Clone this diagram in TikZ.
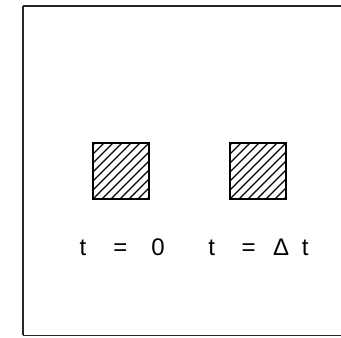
\documentclass[tikz,border=0pt]{standalone}
\usepackage{fontspec}
\setmainfont{Liberation Sans}
\begin{document}
\begin{tikzpicture}[x=1pt,y=1pt,
  framestyle/.style={line width=1.4pt,black!85},
  boxstyle/.style={draw,line width=1pt,minimum width=55pt,minimum height=55pt,inner sep=0pt,anchor=south west},
  hatchline/.style={line width=1.2pt},
  labelstyle/.style={inner sep=0pt,anchor=base west,font=\fontsize{24}{28}\selectfont}]
\useasboundingbox (0,0) rectangle (341,338);
% frame
\coordinate (tl) at (23,332);
\coordinate (bl) at (23,2.5);
\coordinate (tr) at (341,332);
\coordinate (br) at (341,2.5);
\draw[framestyle,line width=1.1pt] (tl) -- (tr);
\draw[framestyle,line width=1.8pt] (tl) -- (bl);
\draw[framestyle] (bl) -- (br);
% squares
\node[boxstyle] (sq1) at (93,139) {};
\node[boxstyle] (sq2) at (230,139) {};
\foreach \s in {sq1,sq2}{
  \begin{scope}
    \clip (\s.south west) rectangle (\s.north east);
    \foreach \k in {-54,-45,...,54}{
      \draw[hatchline] ([xshift=\k pt]\s.south west) -- ([xshift=\k pt]\s.north east);
    }
  \end{scope}
  \draw[line width=1.2pt] (\s.south west) rectangle (\s.north east);
}
% labels
\node[labelstyle] (l1) at (64,82.5) {\makebox[37.5pt]{t}\makebox[37.5pt]{=}\makebox[37.5pt]{0}};
\node[labelstyle] (l2) at (193,82.5) {\makebox[37pt]{t}\makebox[37pt]{=}\makebox[28pt]{Δ}\makebox[20pt]{t}};
\end{tikzpicture}
\end{document}
